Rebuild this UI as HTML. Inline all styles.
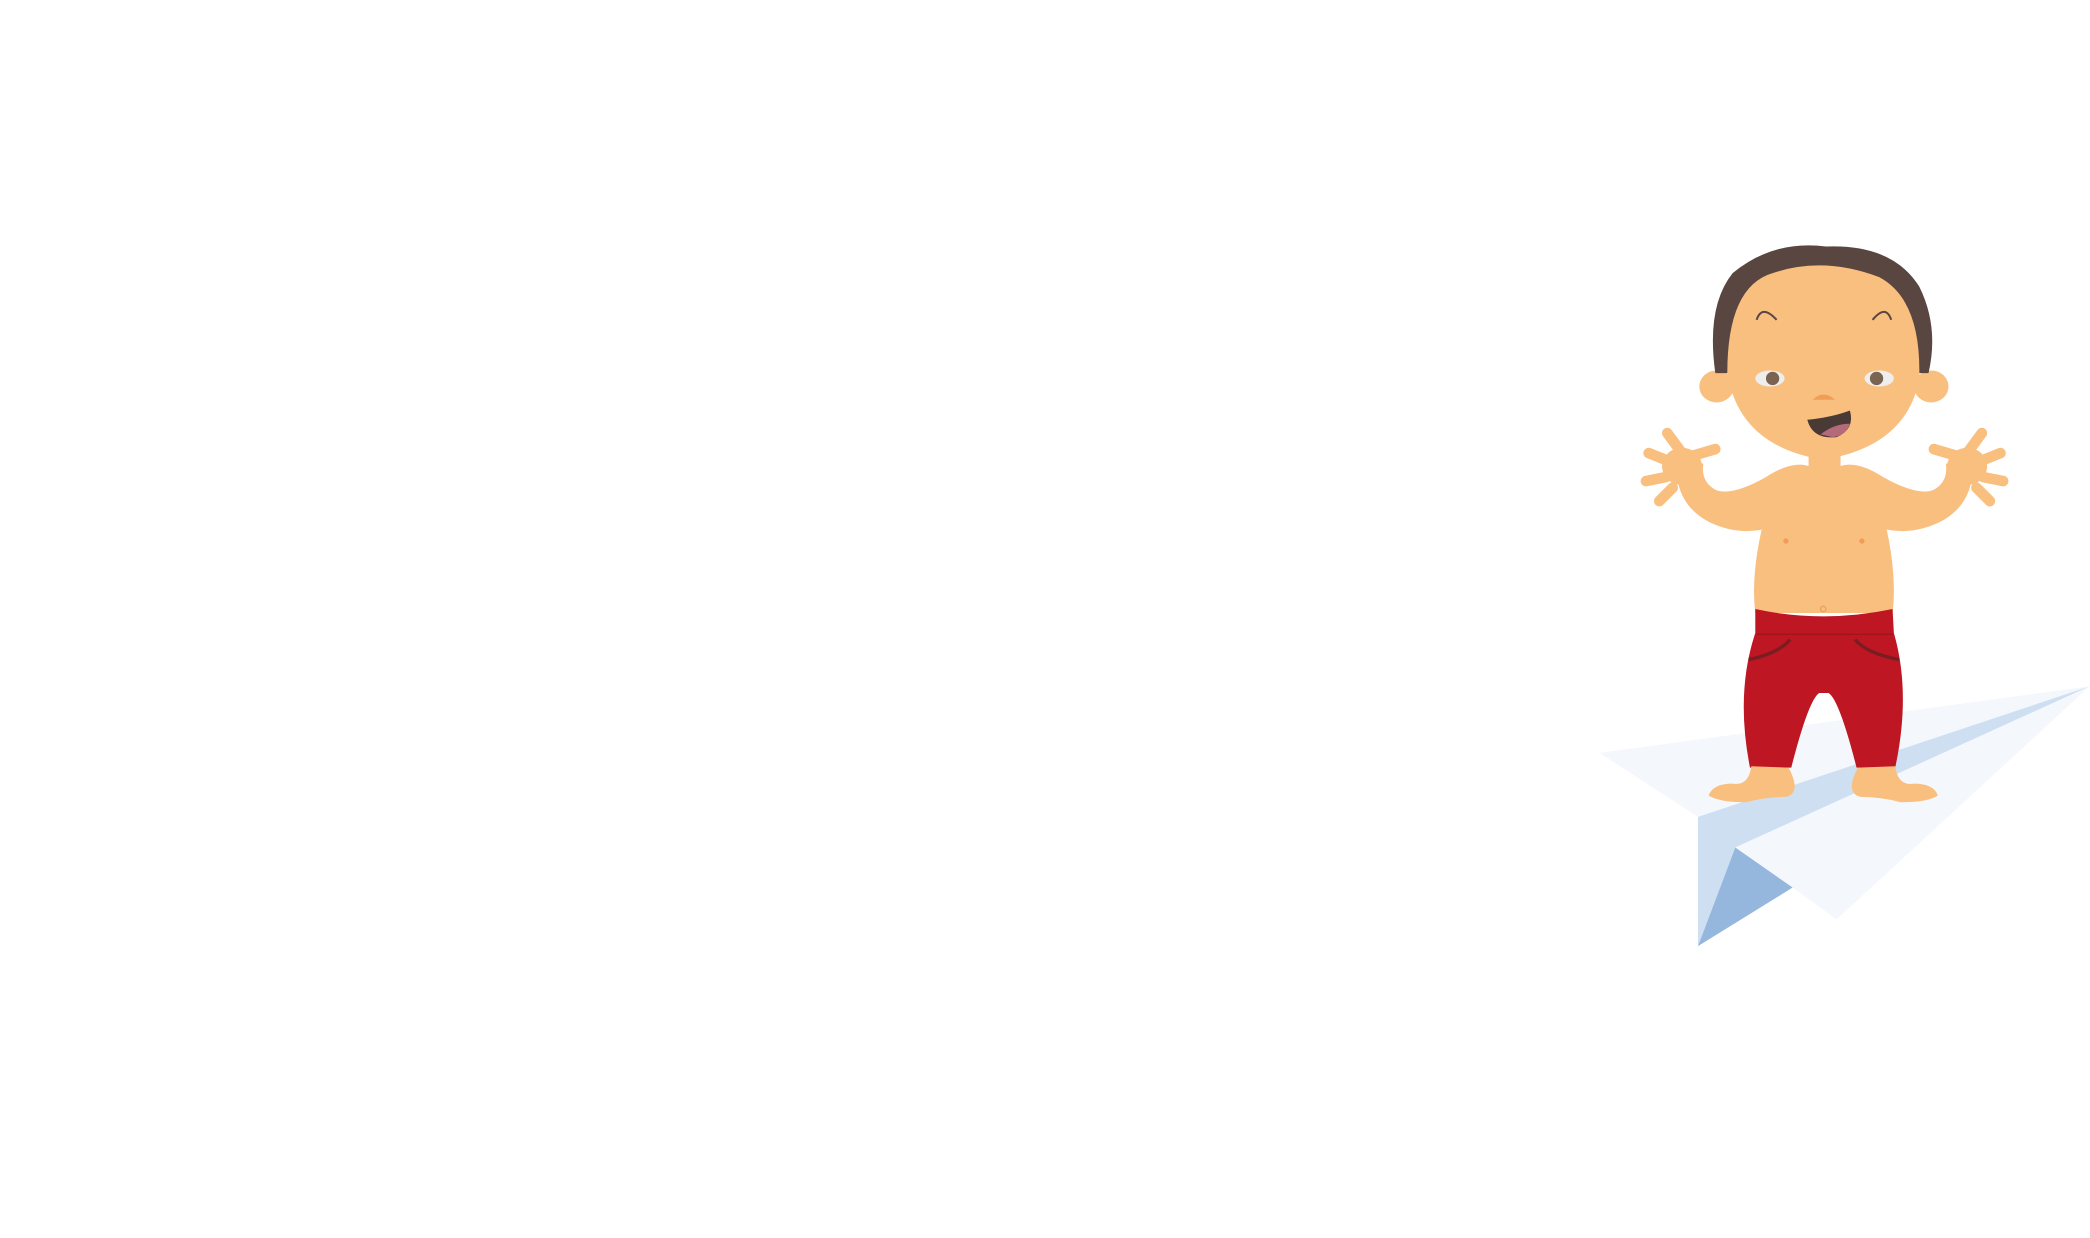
<!DOCTYPE html>
<html><head><meta charset="utf-8"><style>html,body{margin:0;padding:0;background:#fff}svg{display:block}</style></head>
<body>
<svg width="2090" height="1238" viewBox="0 0 1568 929" xmlns="http://www.w3.org/2000/svg">
<rect width="1568" height="929" fill="#fff"/>
<!-- paper plane -->
<polygon points="1200,565 1568,515 1274,613" fill="#f4f8fd"/>
<polygon points="1274,613 1568,515 1302,636 1274,710" fill="#cfdff2"/>
<polygon points="1302,636 1568,515 1378,690 1345,666" fill="#f4f8fd"/>
<polygon points="1302,636 1345,666 1274,710" fill="#95b7dd"/>
<!-- baby -->
<g fill="#f9bf7f">
 <!-- arms -->
 <path d="M1358,350 Q1345,345 1325,358 Q1300,372 1288,368 Q1276,362 1278,348 L1258,343 Q1255,378 1283,392 Q1308,404 1335,394 Z"/>
 <path d="M1380,350 Q1393,345 1413,358 Q1438,372 1450,368 Q1462,362 1460,348 L1480,343 Q1483,378 1455,392 Q1430,404 1403,394 Z"/>
 <ellipse cx="1262" cy="350" rx="15" ry="14"/>
 <ellipse cx="1476" cy="350" rx="15" ry="14"/>
 <g stroke="#f9bf7f" stroke-width="8" stroke-linecap="round" fill="none">
  <path d="M1262,340 L1251,325"/><path d="M1252,346 L1237,340"/><path d="M1250,358 L1235,361"/><path d="M1255,366 L1245,376"/><path d="M1270,342 L1287,337"/>
  <path d="M1476,340 L1487,325"/><path d="M1486,346 L1501,340"/><path d="M1488,358 L1503,361"/><path d="M1483,366 L1493,376"/><path d="M1468,342 L1451,337"/>
 </g>
 <!-- torso -->
 <rect x="1357" y="330" width="24" height="35"/>
 <path d="M1333,358 Q1368,345 1405,358 Q1425,420 1420,460 L1317,460 Q1312,420 1333,358 Z"/>
 <!-- ears -->
 <ellipse cx="1288" cy="290" rx="13" ry="12"/>
 <ellipse cx="1449" cy="290" rx="13" ry="12"/>
</g>
<!-- hair -->
<path d="M1287,280 Q1280,230 1300,205 Q1330,180 1370,185 Q1420,183 1440,215 Q1455,245 1447,280 Z" fill="#5a4640"/>
<!-- face -->
<path d="M1296,280 Q1296,215 1330,205 Q1368,192 1410,208 Q1442,225 1440,285 Q1430,335 1368,345 Q1305,335 1296,280 Z" fill="#f9bf7f"/>
<path d="M1318,240 Q1322,228 1333,240" fill="none" stroke="#5a4640" stroke-width="1.5"/>
<path d="M1405,240 Q1415,228 1419,240" fill="none" stroke="#5a4640" stroke-width="1.5"/>
<ellipse cx="1328" cy="284" rx="11" ry="6" fill="#eee"/>
<ellipse cx="1410" cy="284" rx="11" ry="6" fill="#eee"/>
<circle cx="1330" cy="284" r="5" fill="#7a6350"/><circle cx="1408" cy="284" r="5" fill="#7a6350"/>
<path d="M1360,300 Q1368,292 1377,300 Z" fill="#f19d58"/>
<path d="M1356,315 Q1375,313 1388,308 Q1392,322 1378,328 Q1360,330 1356,315 Z" fill="#4a3a36"/>
<path d="M1366,326 Q1376,318 1388,318 Q1385,327 1375,328 Z" fill="#b56a7a"/>
<circle cx="1340" cy="406" r="2" fill="#f19d58"/><circle cx="1397" cy="406" r="2" fill="#f19d58"/>
<circle cx="1368" cy="457" r="2" fill="none" stroke="#f19d58"/>
<!-- pants -->
<path d="M1317,457 Q1368,468 1420,457 L1421,475 Q1434,520 1422,576 L1393,576 Q1380,525 1372,520 L1365,520 Q1357,525 1344,576 L1313,576 Q1302,520 1317,475 Z" fill="#be1622"/>
<path d="M1312,495 Q1335,490 1343,480 M1425,495 Q1400,490 1392,480" fill="none" stroke="#7a1d22" stroke-width="2.5"/>
<path d="M1318,476 L1420,476" stroke="#a0141e" stroke-width="1"/>
<!-- feet -->
<path d="M1314,575 L1342,576 Q1352,595 1340,598 Q1325,598 1310,602 Q1290,602 1282,597 Q1285,588 1300,588 Q1312,590 1314,575 Z" fill="#f9bf7f"/>
<path d="M1422,575 L1394,576 Q1384,595 1396,598 Q1411,598 1426,602 Q1446,602 1454,597 Q1451,588 1436,588 Q1424,590 1422,575 Z" fill="#f9bf7f"/>
</svg>
</body></html>
